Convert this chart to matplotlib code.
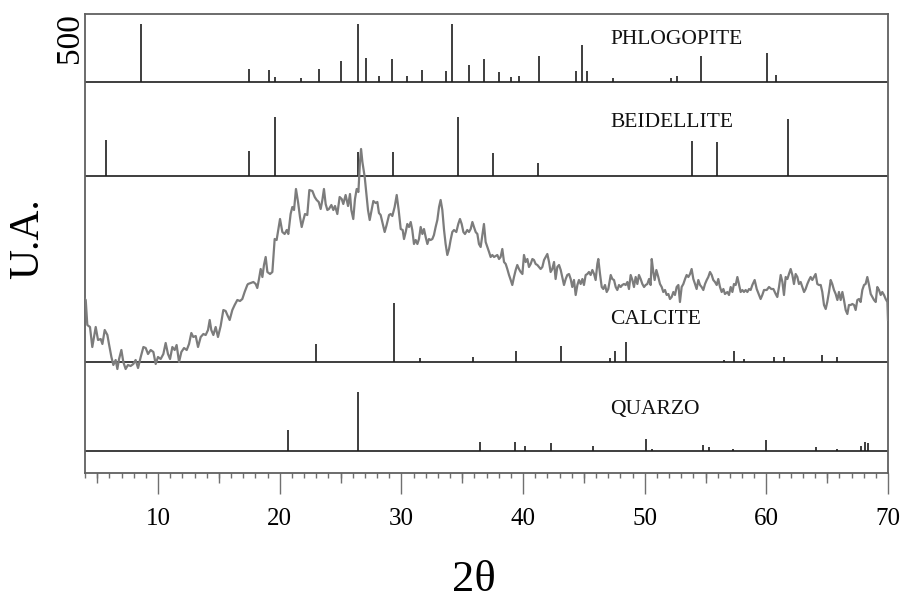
import matplotlib
matplotlib.use('Agg')
import matplotlib.pyplot as plt
from matplotlib.ticker import MultipleLocator

plt.rcParams['font.family'] = ['Liberation Serif', 'DejaVu Serif']

# ---------------- data ----------------
phlog_2theta = [8.6, 17.45, 19.1, 19.64, 21.73, 23.23, 25.07, 26.41, 27.07, 28.16, 29.26,
                30.43, 31.67, 33.7, 34.13, 35.56, 36.82, 38.03, 39.0, 39.64, 41.29, 44.33,
                44.85, 45.26, 47.4, 52.14, 52.63, 54.6, 60.05, 60.82]
phlog_int = [660, 148, 136, 57, 45, 148, 239, 660, 273, 68, 261,
             68, 136, 125, 660, 193, 261, 114, 57, 68, 295, 125,
             420, 125, 45, 45, 68, 295, 330, 80]

beid_2theta = [5.73, 17.45, 19.6, 26.4, 29.3, 34.66, 37.57, 41.2, 53.9, 55.97, 61.8]
beid_int = [61, 42, 100, 40, 41, 100, 39, 22, 59, 57, 97]

calc_2theta = [22.99, 29.37, 31.53, 35.9, 39.4, 43.12, 47.15, 47.6, 48.5, 56.5, 57.35,
               58.16, 60.63, 61.48, 64.6, 65.8]
calc_int = [31, 100, 6, 9, 19, 27, 7, 19, 34, 3, 19, 5, 9, 9, 12, 9]

quarz_2theta = [20.66, 26.41, 36.47, 39.32, 40.2, 42.33, 45.73, 50.1, 50.6, 54.82, 55.26,
                57.23, 59.94, 64.05, 65.8, 67.78, 68.13, 68.38]
quarz_int = [36, 100, 15, 15, 9, 13, 9, 20, 4, 10, 6, 4, 19, 6, 3, 9, 15, 13]

xrd_2theta = [
    4.00, 4.06, 4.19, 4.41, 4.60, 4.88, 5.07, 5.29, 5.43, 5.62, 5.84, 5.97, 6.17, 6.33, 6.52,
    6.66, 6.80, 6.99, 7.15, 7.34, 7.53, 7.75, 7.97, 8.16, 8.36, 8.58, 8.80, 8.99, 9.18, 9.40,
    9.62, 9.81, 10.00, 10.22, 10.44, 10.63, 10.82, 10.99, 11.18, 11.37, 11.53, 11.73, 11.92,
    12.14, 12.36, 12.55, 12.74, 12.90, 13.10, 13.29, 13.51, 13.73, 13.92, 14.11, 14.25, 14.38,
    14.55, 14.74, 14.93, 15.15, 15.37, 15.56, 15.70, 15.89, 16.11, 16.30, 16.52, 16.74, 16.93,
    17.12, 17.34,
    17.40, 17.62, 17.84, 18.03, 18.16, 18.30, 18.44, 18.58, 18.71, 18.85, 18.99, 19.21, 19.40,
    19.59, 19.75, 19.86, 20.03, 20.22, 20.41, 20.58, 20.71, 20.90, 21.04, 21.18, 21.34, 21.51,
    21.67, 21.81, 21.95, 22.08, 22.27, 22.44, 22.69, 22.88, 23.04, 23.21, 23.37, 23.51, 23.64,
    23.78, 23.92, 24.05, 24.25, 24.41, 24.55, 24.74, 24.93, 25.10, 25.23, 25.42, 25.62, 25.78,
    25.89, 26.05, 26.19, 26.33, 26.47, 26.60, 26.69, 26.80, 26.99, 27.15, 27.26, 27.40, 27.56,
    27.70, 27.89, 28.03, 28.16, 28.30, 28.47, 28.63, 28.79, 28.99, 29.12, 29.26, 29.45, 29.62,
    29.78, 29.95, 30.11, 30.22,
    30.36, 30.49, 30.63, 30.77, 30.90, 31.04, 31.18, 31.32, 31.45, 31.59, 31.73, 31.86, 32.00,
    32.14, 32.27, 32.41, 32.55, 32.68, 32.82, 32.96, 33.10, 33.23, 33.37, 33.51, 33.64, 33.78,
    33.92, 34.05, 34.19, 34.33, 34.52, 34.68, 34.82, 34.96, 35.10, 35.23, 35.42, 35.56, 35.70,
    35.84, 35.97, 36.11, 36.25, 36.38, 36.52, 36.66, 36.79, 36.93, 37.07, 37.21, 37.34, 37.48,
    37.62, 37.75, 37.89, 38.03, 38.16, 38.30, 38.44, 38.58, 38.71, 38.85, 38.99, 39.12, 39.26,
    39.40, 39.53, 39.67, 39.81, 39.95, 40.08, 40.22, 40.36, 40.49, 40.63, 40.77, 40.90, 41.04,
    41.18, 41.32, 41.45, 41.59, 41.73, 41.86, 42.00, 42.14, 42.27, 42.41, 42.55, 42.68, 42.82,
    42.96, 43.10, 43.23, 43.37, 43.51, 43.64,
    43.78, 43.92, 44.05, 44.19, 44.33, 44.47, 44.60, 44.74, 44.88, 45.01, 45.15, 45.29, 45.42,
    45.56, 45.70, 45.84, 45.97, 46.11, 46.19, 46.33, 46.47, 46.60, 46.74, 46.88, 47.01, 47.21,
    47.34, 47.48, 47.62, 47.75, 47.89, 48.03, 48.16, 48.30, 48.44, 48.58, 48.71, 48.85, 48.99,
    49.12, 49.26, 49.40, 49.53, 49.67, 49.81, 49.95, 50.08, 50.22, 50.36, 50.49, 50.58, 50.71,
    50.82, 50.96, 51.12, 51.26, 51.40, 51.53, 51.67, 51.81, 51.95, 52.08, 52.22, 52.36, 52.49,
    52.63, 52.77, 52.90, 53.04, 53.18, 53.32, 53.45, 53.59, 53.73, 53.86, 54.00, 54.14, 54.27,
    54.41, 54.55, 54.68, 54.82, 54.96, 55.10, 55.23, 55.37, 55.51, 55.64, 55.78, 55.92, 56.05,
    56.19, 56.33, 56.47, 56.60, 56.80,
    56.93, 57.07, 57.21, 57.34, 57.48, 57.62, 57.75, 57.89, 58.03, 58.16, 58.30, 58.44, 58.58,
    58.71, 58.85, 59.04, 59.21, 59.40, 59.53, 59.67, 59.81, 60.03, 60.22, 60.41, 60.58, 60.77,
    60.90, 61.04, 61.18, 61.32, 61.45, 61.59, 61.73, 61.86, 62.00, 62.14, 62.27, 62.41, 62.55,
    62.68, 62.82, 62.96, 63.10, 63.23, 63.37, 63.51, 63.64, 63.78, 63.92, 64.05, 64.19, 64.33,
    64.47, 64.60, 64.74, 64.88, 65.01, 65.15, 65.29, 65.42, 65.56, 65.70, 65.84, 65.97, 66.11,
    66.25, 66.38, 66.52, 66.66, 66.79, 66.93, 67.07, 67.21, 67.34, 67.48, 67.62, 67.75, 67.89,
    68.03, 68.16, 68.30, 68.44, 68.58, 68.71, 68.85, 68.99, 69.12, 69.26, 69.40, 69.53, 69.67,
    69.81, 69.95, 70.00]
xrd_int = [
    63, 62, 37, 35, 15, 35, 22, 23, 18, 32, 27, 18, 5, -3, 2,
    -7, 3, 12, 0, -7, -3, -4, -2, 2, -6, 5, 15, 14, 8, 12,
    10, -2, 5, 3, 8, 19, 8, 3, 15, 12, 17, 0, 10,
    14, 12, 18, 29, 25, 26, 15, 25, 28, 27, 32, 42, 32,
    27, 35, 25, 36, 52, 51, 47, 42, 52, 57, 62, 61, 63,
    70, 77,
    78, 79, 80, 78, 74, 83, 93, 85, 97, 105, 90, 88, 90,
    123, 122, 130, 143, 130, 128, 132, 128, 148, 155, 152, 173, 160,
    145, 135, 142, 148, 147, 172, 171, 165, 162, 160, 153, 162, 173,
    158, 152, 153, 157, 152, 156, 148, 165, 163, 158, 167, 156, 168,
    152, 143, 163, 173, 170, 200, 213, 200, 185, 165, 152, 142, 152,
    161, 159, 160, 149, 147, 138, 130, 137, 147, 148, 146, 155, 167,
    152, 133, 132, 123,
    130, 138, 135, 140, 132, 118, 122, 118, 123, 135, 128, 133, 125,
    118, 123, 122, 123, 127, 135, 142, 155, 162, 152, 132, 118, 107,
    113, 122, 130, 132, 130, 138, 143, 138, 130, 128, 132, 130, 133,
    140, 135, 130, 128, 118, 115, 127, 138, 120, 115, 110, 105, 107,
    105, 106, 107, 103, 105, 113, 100, 98, 93, 87, 82, 77, 85,
    92, 97, 93, 90, 88, 107, 100, 103, 95, 98, 103, 102, 98,
    97, 95, 93, 95, 102, 105, 108, 100, 90, 93, 100, 83, 95,
    97, 92, 85, 77, 83, 87,
    88, 83, 75, 82, 67, 77, 82, 78, 83, 77, 87, 88, 90,
    87, 92, 88, 82, 98, 103, 88, 75, 73, 77, 70, 73, 87,
    83, 82, 75, 72, 77, 75, 77, 78, 77, 80, 73, 87, 82,
    75, 85, 78, 87, 83, 78, 75, 77, 78, 83, 77, 103, 90,
    82, 92, 85, 78, 75, 70, 72, 67, 68, 63, 65, 70, 67,
    75, 77, 60, 75, 78, 83, 87, 85, 88, 93, 83, 78, 73,
    82, 77, 75, 72, 78, 82, 85, 90, 87, 82, 80, 77, 83,
    75, 70, 73, 68, 70,
    67, 75, 70, 78, 77, 85, 78, 70, 72, 70, 72, 70, 73,
    72, 77, 82, 73, 67, 63, 67, 72, 72, 75, 73, 73, 68,
    65, 75, 87, 80, 67, 85, 83, 88, 93, 87, 78, 88, 85,
    78, 80, 75, 70, 73, 78, 82, 85, 82, 85, 88, 78, 77,
    77, 70, 57, 53, 60, 70, 82, 78, 72, 68, 62, 70, 62,
    70, 62, 52, 48, 57, 57, 58, 57, 52, 62, 63, 60, 72,
    77, 78, 85, 77, 68, 65, 62, 60, 75, 72, 67, 70, 67,
    63, 60, 42]

phase_names = ['PHLOGOPITE', 'BEIDELLITE', 'CALCITE', 'QUARZO']
x_ticks = [10, 20, 30, 40, 50, 60, 70]
y_tick_label = '500'

# ---------------- layout ----------------
W, H = 908, 603
fig = plt.figure(figsize=(W / 100, H / 100), dpi=100)
ax = fig.add_axes([85 / W, 130 / H, 803 / W, 459 / H])
ax.set_xlim(4, 70)
ax.set_ylim(0, 459)

base_quarz, base_calc, base_beid, base_phlog = 22, 111, 297, 391
scale_rel = 0.59
scale_phlog = 44 / 500
stick_col = '#1e1e1e'

for base in (base_quarz, base_calc, base_beid, base_phlog):
    ax.axhline(base, color=stick_col, lw=1.2, zorder=2)

ax.vlines(phlog_2theta, base_phlog, [base_phlog + v * scale_phlog for v in phlog_int],
          colors=stick_col, lw=1.2, zorder=2)
ax.vlines(beid_2theta, base_beid, [base_beid + v * scale_rel for v in beid_int],
          colors=stick_col, lw=1.2, zorder=2)
ax.vlines(calc_2theta, base_calc, [base_calc + v * scale_rel for v in calc_int],
          colors=stick_col, lw=1.2, zorder=2)
ax.vlines(quarz_2theta, base_quarz, [base_quarz + v * scale_rel for v in quarz_int],
          colors=stick_col, lw=1.2, zorder=2)

ax.plot(xrd_2theta, [base_calc + v for v in xrd_int], color='#7c7c7c', lw=1.6, zorder=3)

label_y = [428.5, 345.8, 149.1, 59.1]
for name, ly in zip(phase_names, label_y):
    ax.text(47.2, ly, name, fontsize=15.5, color='#111', va='baseline', ha='left')

for s in ax.spines.values():
    s.set_color('#606060')
    s.set_linewidth(1.3)

ax.set_xticks(x_ticks)
ax.set_xticklabels([str(t) for t in x_ticks])
ax.xaxis.set_minor_locator(MultipleLocator(1))
ax.tick_params(axis='x', which='major', direction='out', length=15, width=1.0,
               color='#707070', labelsize=18, pad=10)
ax.tick_params(axis='x', which='minor', direction='out', length=3.6, width=1.0,
               color='#707070')

sec = ax.secondary_xaxis('bottom')
sec.set_xticks([5, 15, 25, 35, 45, 55, 65])
sec.tick_params(axis='x', direction='out', length=7.2, width=1.0, color='#707070',
                labelbottom=False)
sec.spines['bottom'].set_visible(False)

ax.set_yticks([base_phlog + 500 * scale_phlog])
ax.set_yticklabels([y_tick_label], rotation=90, va='center', fontsize=24)
ax.tick_params(axis='y', length=0, pad=0)

fig.text(28 / W, 1 - 239 / H, 'U.A.', rotation=90, fontsize=30, ha='center', va='center')
fig.text(474 / W, 1 - 580 / H, '2θ', fontsize=32, ha='center', va='center')

fig.savefig('out.png', dpi=100)
